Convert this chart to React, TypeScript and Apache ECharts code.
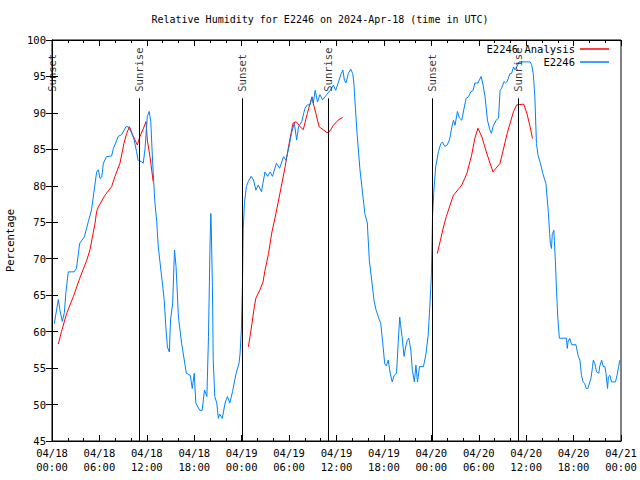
import React, { useEffect, useRef } from 'react';
import * as echarts from 'echarts';

const TITLE = 'Relative Humidity for E2246 on 2024-Apr-18 (time in UTC)';
const Y_NAME = 'Percentage';
const FONT = 'DejaVu Sans Mono';

const xTickLabels = [
  '04/18\n00:00', '04/18\n06:00', '04/18\n12:00', '04/18\n18:00',
  '04/19\n00:00', '04/19\n06:00', '04/19\n12:00', '04/19\n18:00',
  '04/20\n00:00', '04/20\n06:00', '04/20\n12:00', '04/20\n18:00',
  '04/21\n00:00',
];

// hours since 2024-04-18 00:00 UTC
const eventNames = ['Sunset', 'Sunrise', 'Sunset', 'Sunrise', 'Sunset', 'Sunrise'];
const eventHours = [0, 11.05, 24.08, 34.97, 48.13, 59.0];
const eventLineTop = 92.0;
const eventLabelBase = 92.9;

// E2246 observations
const obsHours = [
  0.29, 0.8, 1.0, 1.3, 1.56, 1.77, 2.06, 2.8, 3.1, 3.5, 4.1, 4.6, 5.0, 5.2, 5.65, 5.86, 6.07, 6.3, 6.5, 6.9,
  7.55, 7.76, 8.4, 8.8, 9.36, 9.66, 10.1, 10.4, 10.7, 10.9, 11.35, 11.55, 11.77, 12.06, 12.3, 12.5, 12.74, 13.0, 13.25, 13.45,
  13.9, 14.2, 14.4, 14.6, 14.85, 15.0, 15.27, 15.5, 15.7, 16.0, 16.4, 17.0, 17.5, 17.75, 18.0, 18.2, 18.7, 19.0, 19.3, 19.6,
  19.8, 20.0, 20.1, 20.15, 20.3, 20.4, 20.6, 20.85, 21.05, 21.2, 21.55, 21.9, 22.2, 22.5, 22.85, 23.3, 23.66, 23.8, 23.96, 24.1,
  24.2, 24.35, 24.6, 24.85, 25.2, 25.5, 25.8, 26.1, 26.5, 26.95, 27.3, 27.6, 27.9, 28.4, 28.8, 29.3, 29.6, 30.0, 30.3, 30.66,
  30.96, 31.2, 31.6, 32.0, 32.3, 32.65, 32.9, 33.06, 33.3, 33.6, 33.9, 34.25, 34.76, 35.2, 35.6, 35.9, 36.2, 36.6, 36.8, 37.0,
  37.2, 37.5, 37.8, 38.05, 38.2, 38.3, 38.6, 38.97, 39.3, 39.6, 39.9, 40.15, 40.45, 40.74, 41.0, 41.3, 41.6, 41.9, 42.1, 42.3,
  42.55, 42.8, 43.05, 43.3, 43.6, 43.8, 44.0, 44.1, 44.3, 44.55, 44.75, 44.96, 45.15, 45.4, 45.6, 45.85, 46.05, 46.25, 46.5, 47.0,
  47.3, 47.6, 47.8, 48.0, 48.15, 48.3, 48.55, 48.9, 49.2, 49.4, 49.7, 50.0, 50.3, 50.6, 50.8, 51.0, 51.3, 51.56, 51.85, 52.1,
  52.4, 52.7, 53.0, 53.3, 53.5, 53.9, 54.3, 54.5, 54.8, 55.1, 55.4, 55.6, 55.8, 56.2, 56.5, 56.7, 56.9, 57.2, 57.4, 57.6,
  57.95, 58.15, 58.4, 58.6, 58.8, 59.1, 59.98, 60.5, 60.7, 60.9, 61.1, 61.3, 61.5, 61.8, 62.1, 62.5, 62.8, 62.97, 63.06, 63.2,
  63.3, 63.5, 63.7, 63.8, 63.9, 64.0, 64.2, 65.1, 65.2, 65.3, 65.5, 65.76, 66.3, 66.6, 66.8, 67.0, 67.2, 67.4, 67.6, 67.8,
  68.2, 68.4, 68.5, 68.7, 68.9, 69.2, 69.3, 69.55, 69.75, 69.96, 70.1, 70.3, 70.4, 70.6, 70.8, 71.3, 71.5, 71.7, 71.86,
];
const obsValues = [
  61.1, 64.4, 63.0, 61.4, 62.6, 65.5, 68.2, 68.2, 68.7, 72.1, 73.0, 75.1, 76.7, 78.3, 81.9, 82.2, 81.0, 81.2, 83.1, 84.0,
  84.1, 85.1, 86.8, 87.0, 88.1, 88.1, 87.2, 86.3, 84.7, 83.5, 83.3, 83.1, 85.1, 89.5, 90.2, 88.8, 83.1, 78.0, 75.1, 71.6,
  67.3, 64.3, 60.7, 57.9, 57.2, 61.6, 63.9, 71.2, 68.9, 62.0, 58.4, 54.3, 54.0, 52.2, 54.3, 50.2, 49.2, 49.2, 52.0, 51.1,
  59.3, 72.1, 76.2, 74.5, 66.2, 56.1, 51.1, 50.2, 48.1, 48.7, 48.1, 50.2, 51.1, 50.2, 51.8, 54.3, 55.6, 57.0, 60.2, 66.6,
  74.0, 77.6, 79.9, 80.6, 81.3, 80.8, 79.4, 80.1, 79.2, 81.9, 81.3, 81.9, 81.3, 83.1, 82.4, 84.0, 83.5, 85.4, 87.2, 88.6,
  86.3, 88.1, 88.8, 90.6, 91.1, 91.1, 92.2, 91.3, 93.1, 91.5, 92.5, 91.8, 92.5, 93.1, 93.8, 93.1, 94.1, 95.4, 95.9, 94.5,
  94.1, 95.4, 96.0, 95.4, 94.1, 92.2, 87.2, 82.2, 79.0, 76.1, 74.9, 69.8, 67.1, 64.3, 63.0, 62.0, 61.1, 57.9, 55.6, 55.3,
  56.1, 54.3, 53.1, 54.0, 54.3, 58.4, 62.0, 61.0, 59.3, 56.6, 57.9, 58.8, 59.1, 57.5, 54.7, 53.1, 55.4, 53.1, 55.2, 55.2,
  56.8, 59.5, 63.3, 67.5, 75.8, 79.0, 82.6, 84.7, 85.8, 86.0, 85.4, 85.6, 86.3, 88.1, 89.0, 88.3, 90.2, 89.3, 89.0, 90.4,
  92.0, 92.2, 92.9, 93.1, 94.1, 94.1, 95.0, 94.1, 92.2, 89.0, 87.7, 87.2, 88.1, 89.0, 89.3, 93.1, 93.4, 94.3, 94.1, 94.3,
  95.4, 95.4, 96.3, 95.9, 96.3, 97.0, 97.0, 97.0, 96.6, 95.4, 92.2, 85.8, 84.2, 83.1, 81.7, 80.3, 76.5, 73.5, 72.1, 71.4,
  73.3, 73.9, 69.6, 66.8, 64.3, 62.0, 59.1, 59.1, 57.7, 58.6, 59.1, 58.2, 58.2, 56.6, 56.1, 54.0, 53.1, 52.9, 52.2, 52.2,
  53.6, 55.2, 56.1, 55.6, 54.5, 54.3, 55.2, 56.1, 55.2, 55.2, 54.3, 52.2, 53.8, 54.0, 53.1, 53.1, 54.0, 55.2, 56.1,
];

// E2246 Analysis (null = gap)
const anaHours = [
  0.8, 1.2, 1.86, 2.7, 3.5, 4.4, 4.8, 5.2, 5.44, 5.65, 5.86, 6.7, 7.55, 7.97, 8.6, 9.1, 9.45, 9.8, 10.2, 10.5,
  10.8, 11.1, 11.5, 11.9, 12.06, 12.4, 12.8, 18.0,
  24.85, 25.05, 25.3, 25.6, 25.8, 26.3, 26.7, 26.95, 27.4, 27.8, 28.2, 28.85, 29.5, 30.0, 30.5, 30.9, 31.4, 31.8,
  32.3, 32.9, 33.06, 33.4, 33.8, 34.3, 34.8, 35.1, 35.6, 36.2, 36.8, 42.0,
  48.75, 49.1, 49.5, 49.9, 50.6, 50.8, 51.85, 52.5, 53.1, 53.5, 53.9, 54.4, 55.0, 55.8, 56.7, 57.6, 58.4, 58.8,
  59.7, 60.1, 60.5, 60.8,
];
const anaValues = [
  58.3, 60.0, 62.5, 64.8, 67.3, 69.8, 71.2, 73.5, 74.8, 76.5, 77.1, 78.7, 79.9, 81.3, 83.1, 85.8, 87.2, 88.1, 87.0, 86.3,
  85.6, 86.7, 87.7, 88.8, 86.3, 84.0, 80.6, null,
  57.9, 59.3, 61.1, 63.4, 64.6, 65.7, 66.8, 68.4, 70.7, 73.5, 75.5, 79.0, 82.6, 85.8, 88.6, 88.8, 88.1, 87.7,
  89.9, 92.2, 91.3, 89.9, 88.1, 87.7, 87.3, 87.4, 88.3, 89.0, 89.4, null,
  70.7, 72.3, 74.2, 75.8, 78.1, 78.7, 80.1, 81.7, 84.2, 86.5, 87.9, 86.7, 84.5, 81.9, 83.1, 87.2, 90.2, 91.1,
  91.2, 89.9, 88.1, 86.5,
];

export default function App() {
  const ref = useRef<HTMLDivElement>(null);

  useEffect(() => {
    if (!ref.current) return;
    const chart = echarts.init(ref.current, undefined, { renderer: 'svg' });

    const obsData = obsHours.map((h, i) => [h, obsValues[i]]);
    const anaData = anaHours.map((h, i) => [h, anaValues[i] == null ? '-' : anaValues[i]]);
    const eventLabelData = eventHours.map((h, i) => ({ name: eventNames[i], value: [h, eventLabelBase] }));
    const eventLines = eventHours.map((h) => [{ coord: [h, 45] }, { coord: [h, eventLineTop] }]);

    const textBase = { fontFamily: FONT, fontSize: 10, color: '#000' };
    const tickText = { fontFamily: FONT, fontSize: 10.5, color: '#000' };

    const xCommon = {
      type: 'value' as const,
      min: 0,
      max: 72,
      interval: 6,
      splitLine: { show: false },
      axisLine: { show: true, lineStyle: { color: '#000', width: 1 } },
      axisTick: { show: true, inside: true, length: 6, lineStyle: { color: '#000' } },
      minorTick: { show: true, splitNumber: 3, length: 3, lineStyle: { color: '#000' } },
    };
    const yCommon = {
      type: 'value' as const,
      min: 45,
      max: 100,
      interval: 5,
      splitLine: { show: false },
      axisLine: { show: true, lineStyle: { color: '#000', width: 1 } },
      axisTick: { show: true, inside: true, length: 6, lineStyle: { color: '#000' } },
    };

    chart.setOption({
      animation: false,
      backgroundColor: '#fff',
      title: {
        text: TITLE,
        left: 'center',
        top: 9,
        textStyle: { ...textBase, fontWeight: 'normal' },
      },
      legend: {
        orient: 'vertical',
        right: 31,
        top: 43,
        padding: 0,
        align: 'right',
        itemWidth: 29,
        itemHeight: 1.5,
        itemGap: 1,
        icon: 'rect',
        itemStyle: { borderWidth: 0 },
        textStyle: { ...tickText, lineHeight: 12 },
        data: ['E2246 Analysis', 'E2246'],
      },
      grid: {
        left: 52, right: 19, top: 40, bottom: 39,
        outerBoundsMode: 'none',
        containLabel: false,
        show: true, borderColor: '#000', borderWidth: 1,
      },
      xAxis: [
        {
          ...xCommon,
          position: 'bottom',
          axisLabel: {
            ...tickText,
            margin: 5,
            lineHeight: 14,
            formatter: (v: number) => xTickLabels[Math.round(v / 6)] ?? '',
          },
        },
        { ...xCommon, position: 'top', axisLabel: { show: false } },
      ],
      yAxis: [
        {
          ...yCommon,
          position: 'left',
          name: Y_NAME,
          nameLocation: 'middle',
          nameGap: 37,
          nameRotate: 90,
          nameTextStyle: { ...tickText },
          axisLabel: { ...tickText, margin: 6 },
        },
        { ...yCommon, position: 'right', axisLabel: { show: false } },
      ],
      series: [
        {
          name: 'E2246 Analysis',
          type: 'line',
          data: anaData,
          symbol: 'none',
          connectNulls: false,
          lineStyle: { color: '#ff0000', width: 1 },
          itemStyle: { color: '#ff0000' },
          z: 2,
        },
        {
          name: 'E2246',
          type: 'line',
          data: obsData,
          symbol: 'none',
          lineStyle: { color: '#0080ff', width: 1 },
          itemStyle: { color: '#0080ff' },
          z: 3,
        },
        {
          name: 'events',
          type: 'scatter',
          data: eventLabelData,
          symbolSize: 1,
          itemStyle: { color: 'transparent' },
          silent: true,
          z: 4,
          label: {
            show: true,
            position: 'inside',
            rotate: 90,
            align: 'left',
            verticalAlign: 'middle',
            formatter: '{b}',
            ...tickText,
          },
          markLine: {
            silent: true,
            symbol: 'none',
            label: { show: false },
            lineStyle: { color: '#000', width: 1, type: 'solid' },
            data: eventLines,
          },
        },
      ],
    });

    return () => chart.dispose();
  }, []);

  return <div ref={ref} style={{ width: 640, height: 480, position: 'absolute', left: 0, top: 0 }} />;
}
